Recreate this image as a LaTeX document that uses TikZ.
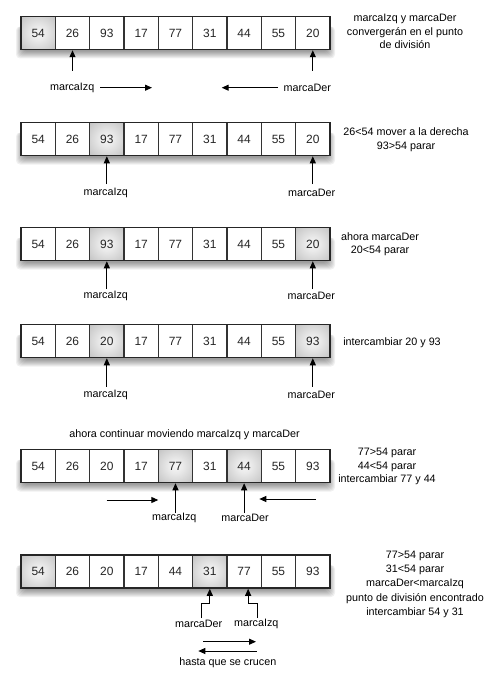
\documentclass[tikz,border=0pt]{standalone}
\usepackage{fontspec}
\setmainfont{Liberation Sans}
\usetikzlibrary{arrows.meta}
\pgfdeclareradialshading{cellshade}{\pgfpoint{0bp}{0bp}}{%
  color(0bp)=(white!96!black); color(10bp)=(white!92!black);
  color(30bp)=(white!80!black); color(50bp)=(white!66!black);
  color(71bp)=(white!55!black)}
\tikzset{
 cell/.style={draw=black!80, line width=1.5bp, minimum width=34.33bp, minimum height=33bp, inner sep=0pt, fill=white, font=\fontsize{12}{14}\selectfont, text=black!85},
 hl/.style={cell, shading=cellshade},
 lbl/.style={font=\fontsize{10.8}{13}\selectfont, inner sep=1pt},
 note/.style={font=\fontsize{10.8}{13.5}\selectfont, align=center, inner sep=0pt},
 arr/.style={line width=1bp, -{Triangle[length=7bp,width=6bp]}},
}
\newcommand\drawrow[3]{%
 \foreach \k in {1,...,8}
   \fill[black,opacity=0.06,rounded corners=4bp] ({24-\k},{#2+10}) rectangle ({327+\k},{#2+34+\k});
 \foreach \v/\s [count=\i] in {#3}
   \node[\s] (r#1c\i) at ({21+34.33*(\i-0.5)},{#2+16.5}) {\v};
 \draw[line width=1.6bp, black!85] (21,#2) rectangle (330,{#2+33});
}
\begin{document}
\begin{tikzpicture}[x=1bp,y=-1bp]
\useasboundingbox (0,0) rectangle (499,680);

% Row 1
\drawrow{1}{16.5}{54/hl,26/cell,93/cell,17/cell,77/cell,31/cell,44/cell,55/cell,20/cell}
\node[lbl] (l1a) at (72.2,87.7) {marcaIzq};
\node[lbl] (l1b) at (307.3,87.7) {marcaDer};
\draw[arr] ([yshift=16.7bp]r1c2.south |- l1a.center) -- (r1c2.south);
\draw[arr] ([yshift=16.7bp]r1c9.south |- l1b.center) -- (r1c9.south);
\coordinate (h1a) at (100,87.7); \coordinate (h1b) at (152,87.7);
\coordinate (h1c) at (278,87.7); \coordinate (h1d) at (221.7,87.7);
\draw[arr] (h1a) -- (h1b);
\draw[arr] (h1c) -- (h1d);
\node[note] (n1) at (405,31.5) {marcaIzq y marcaDer\\convergerán en el punto\\de división};

% Row 2
\drawrow{2}{122.5}{54/cell,26/cell,93/hl,17/cell,77/cell,31/cell,44/cell,55/cell,20/cell}
\node[lbl] (l2a) at (105.8,192.7) {marcaIzq};
\node[lbl] (l2b) at (311.7,192.7) {marcaDer};
\draw[arr] ([yshift=8.7bp]r2c3.south |- l2a.center) -- (r2c3.south);
\draw[arr] ([yshift=8.7bp]r2c9.south |- l2b.center) -- (r2c9.south);
\node[note] (n2) at (406,139.7) {26<54 mover a la derecha\\93>54 parar};

% Row 3
\drawrow{3}{227.5}{54/cell,26/cell,93/hl,17/cell,77/cell,31/cell,44/cell,55/cell,20/hl}
\node[lbl] (l3a) at (105.8,296) {marcaIzq};
\node[lbl] (l3b) at (311.3,296) {marcaDer};
\draw[arr] ([yshift=7bp]r3c3.south |- l3a.center) -- (r3c3.south);
\draw[arr] ([yshift=7bp]r3c9.south |- l3b.center) -- (r3c9.south);
\node[note] (n3) at (380,244.3) {ahora marcaDer\\20<54 parar};

% Row 4
\drawrow{4}{324.5}{54/cell,26/cell,20/hl,17/cell,77/cell,31/cell,44/cell,55/cell,93/hl}
\node[lbl] (l4a) at (105.8,395) {marcaIzq};
\node[lbl] (l4b) at (311.3,395) {marcaDer};
\draw[arr] ([yshift=8.3bp]r4c3.south |- l4a.center) -- (r4c3.south);
\draw[arr] ([yshift=8.3bp]r4c9.south |- l4b.center) -- (r4c9.south);
\node[note] (n4) at (392,342.3) {intercambiar 20 y 93};

% Row 5
\node[note] (t5) at (184.5,435) {ahora continuar moviendo marcaIzq y marcaDer};
\drawrow{5}{449.5}{54/cell,26/cell,20/cell,17/cell,77/hl,31/cell,44/hl,55/cell,93/cell}
\node[lbl] (l5a) at (174.3,517.7) {marcaIzq};
\node[lbl] (l5b) at (245,517.7) {marcaDer};
\draw[arr] ([yshift=4.7bp]r5c5.south |- l5a.center) -- (r5c5.south);
\draw[arr] ([yshift=4.7bp]r5c7.south |- l5b.center) -- (r5c7.south);
\coordinate (h5a) at (106.7,500); \coordinate (h5b) at (158.3,500);
\coordinate (h5c) at (316,499); \coordinate (h5d) at (259.3,499);
\draw[arr] (h5a) -- (h5b);
\draw[arr] (h5c) -- (h5d);
\node[note] (n5) at (387,466.7) {77>54 parar\\44<54 parar\\intercambiar 77 y 44};

% Row 6
\drawrow{6}{555}{54/hl,26/cell,20/cell,17/cell,44/cell,31/hl,77/cell,55/cell,93/cell}
\node[lbl] (l6a) at (198.7,624.3) {marcaDer};
\node[lbl] (l6b) at (256.3,624.3) {marcaIzq};
\draw[arr] ([xshift=2.3bp,yshift=6.3bp]l6a.center) |- ([yshift=-15bp]r6c6.south) -- (r6c6.south);
\draw[arr] ([xshift=1bp,yshift=6.3bp]l6b.center) |- ([xshift=4bp,yshift=-15bp]r6c7.south) -- ([xshift=4bp]r6c7.south);
\coordinate (h6a) at (203.3,641.7); \coordinate (h6b) at (256,641.7);
\coordinate (h6c) at (256.7,651); \coordinate (h6d) at (198.3,651);
\draw[arr] (h6a) -- (h6b);
\draw[arr] (h6c) -- (h6d);
\node[lbl] (b6) at (227.8,662.7) {hasta que se crucen};
\node[note, font=\fontsize{10.8}{14.2}\selectfont] (n6) at (415,584.3) {77>54 parar\\31<54 parar\\marcaDer<marcaIzq\\punto de división encontrado\\intercambiar 54 y 31};
\end{tikzpicture}
\end{document}
